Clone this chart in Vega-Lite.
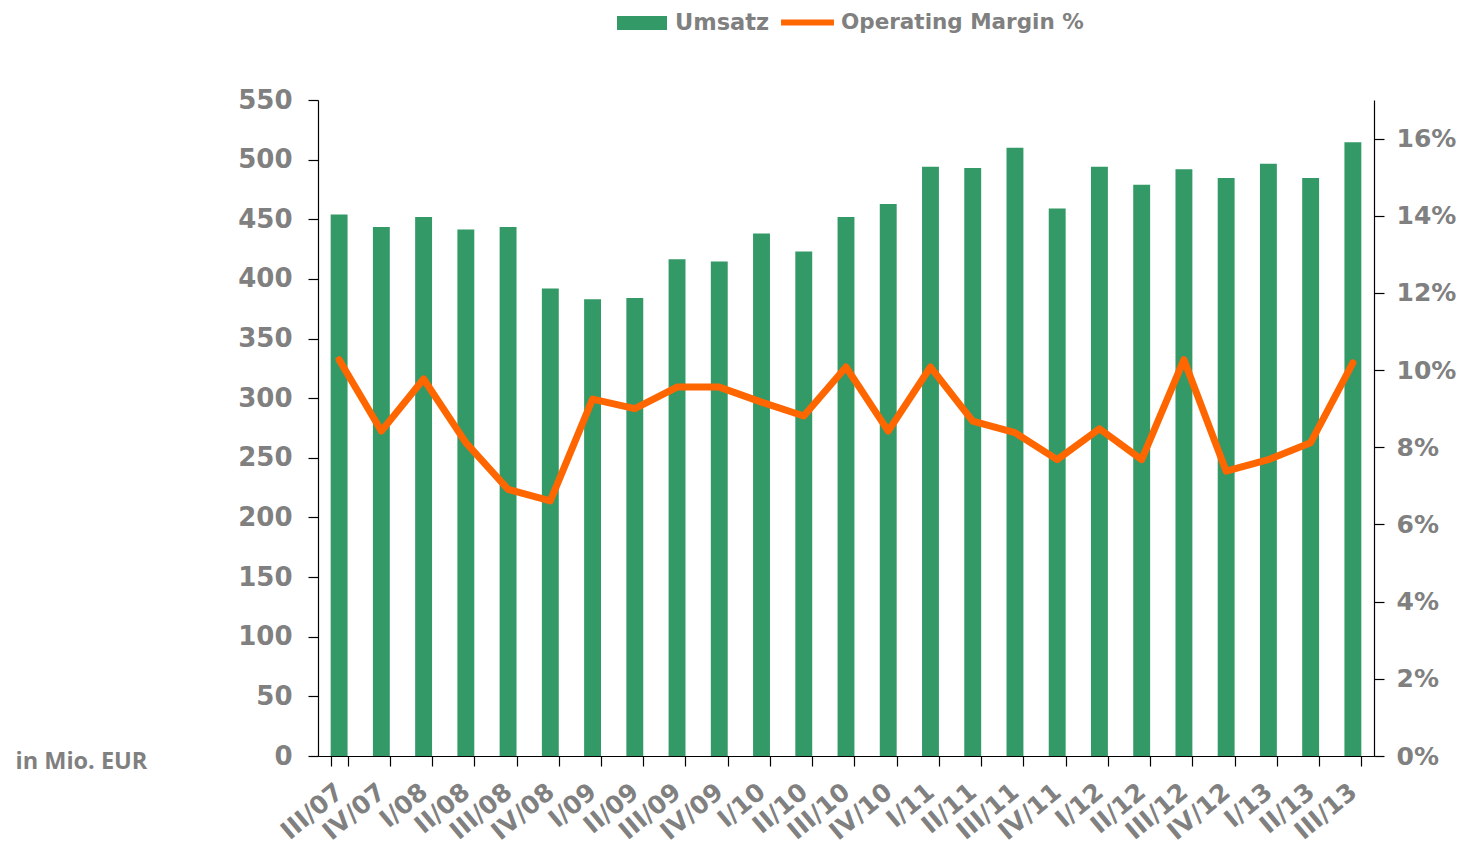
{
  "$schema": "https://vega.github.io/schema/vega-lite/v6.json",
  "width": 1056,
  "height": 656,
  "autosize": {"type": "none"},
  "padding": {"left": 318, "top": 100, "right": 91, "bottom": 94},
  "background": "white",
  "config": {
    "view": {"stroke": null},
    "axis": {"grid": false, "domainColor": "#000000", "tickColor": "#000000", "domainWidth": 1.2, "tickWidth": 1.2,
      "labelColor": "#808080", "labelFont": "DejaVu Sans", "labelFontWeight": "bold"}
  },
  "data": {"values": [
    {"q": "III/07", "umsatz": 454, "margin": 0.1027},
    {"q": "IV/07", "umsatz": 443.5, "margin": 0.0842},
    {"q": "I/08", "umsatz": 452, "margin": 0.0977},
    {"q": "II/08", "umsatz": 441.5, "margin": 0.0812},
    {"q": "III/08", "umsatz": 443.5, "margin": 0.0691},
    {"q": "IV/08", "umsatz": 392, "margin": 0.0661},
    {"q": "I/09", "umsatz": 383, "margin": 0.0925},
    {"q": "II/09", "umsatz": 384, "margin": 0.09},
    {"q": "III/09", "umsatz": 416.5, "margin": 0.0956},
    {"q": "IV/09", "umsatz": 414.5, "margin": 0.0956},
    {"q": "I/10", "umsatz": 438, "margin": 0.0917},
    {"q": "II/10", "umsatz": 423, "margin": 0.0881},
    {"q": "III/10", "umsatz": 452, "margin": 0.1008},
    {"q": "IV/10", "umsatz": 462.8, "margin": 0.0842},
    {"q": "I/11", "umsatz": 494, "margin": 0.1008},
    {"q": "II/11", "umsatz": 493, "margin": 0.0868},
    {"q": "III/11", "umsatz": 510, "margin": 0.0838},
    {"q": "IV/11", "umsatz": 459, "margin": 0.0768},
    {"q": "I/12", "umsatz": 494, "margin": 0.0848},
    {"q": "II/12", "umsatz": 479, "margin": 0.0768},
    {"q": "III/12", "umsatz": 492, "margin": 0.1027},
    {"q": "IV/12", "umsatz": 484.6, "margin": 0.0738},
    {"q": "I/13", "umsatz": 496.5, "margin": 0.0768},
    {"q": "II/13", "umsatz": 484.6, "margin": 0.0812},
    {"q": "III/13", "umsatz": 514.5, "margin": 0.1019}
  ]},
  "encoding": {
    "x": {"field": "q", "type": "ordinal", "sort": null,
      "scale": {"paddingInner": 0.6, "paddingOuter": 0.3},
      "axis": {"title": null, "labelAngle": -40, "labelAlign": "right", "labelBaseline": "middle",
        "labelFontSize": 25, "labelPadding": 22, "tickBand": "extent", "tickSize": 10}}
  },
  "layer": [
    {
      "mark": {"type": "bar"},
      "encoding": {
        "y": {"field": "umsatz", "type": "quantitative",
          "scale": {"domain": [0, 550], "nice": false},
          "axis": {"title": "in Mio. EUR", "values": [0,50,100,150,200,250,300,350,400,450,500,550],
            "labelFontSize": 26, "labelPadding": 16, "tickSize": 10,
            "titleAngle": 0, "titleAlign": "left", "titleBaseline": "alphabetic", "titleX": -303, "titleY": 668,
            "titleFont": "Open Sans", "titleFontSize": 23.5, "titleFontWeight": "bold", "titleColor": "#808080"}},
        "color": {"datum": "Umsatz", "scale": {"range": ["#339966"]},
          "legend": {"orient": "none", "legendX": 299, "legendY": -102, "direction": "horizontal", "title": null, "padding": 0,
            "symbolType": "M-1,-0.28H1V0.28H-1Z", "symbolSize": 2500, "symbolStrokeWidth": 0, "labelLimit": 0,
            "labelFontSize": 22.5, "labelColor": "#808080", "labelFont": "DejaVu Sans", "labelFontWeight": "bold", "labelOffset": 8}}
      }
    },
    {
      "mark": {"type": "line", "strokeWidth": 7, "strokeCap": "round", "strokeJoin": "round"},
      "encoding": {
        "y": {"field": "margin", "type": "quantitative",
          "scale": {"domain": [0, 0.17], "nice": false},
          "axis": {"title": null, "orient": "right", "format": ".0%", "values": [0,0.02,0.04,0.06,0.08,0.1,0.12,0.14,0.16],
            "labelFontSize": 25, "labelPadding": 12, "tickSize": 10}},
        "stroke": {"datum": "Operating Margin %", "scale": {"range": ["#FF6600"]},
          "legend": {"orient": "none", "legendX": 460, "legendY": -107, "direction": "horizontal", "title": null, "padding": 0,
            "symbolType": "stroke", "symbolSize": 2800, "symbolStrokeWidth": 6, "labelLimit": 0,
            "labelFontSize": 21.5, "labelColor": "#808080", "labelFont": "DejaVu Sans", "labelFontWeight": "bold", "labelOffset": 4}}
      }
    }
  ],
  "resolve": {"scale": {"y": "independent"}}
}
